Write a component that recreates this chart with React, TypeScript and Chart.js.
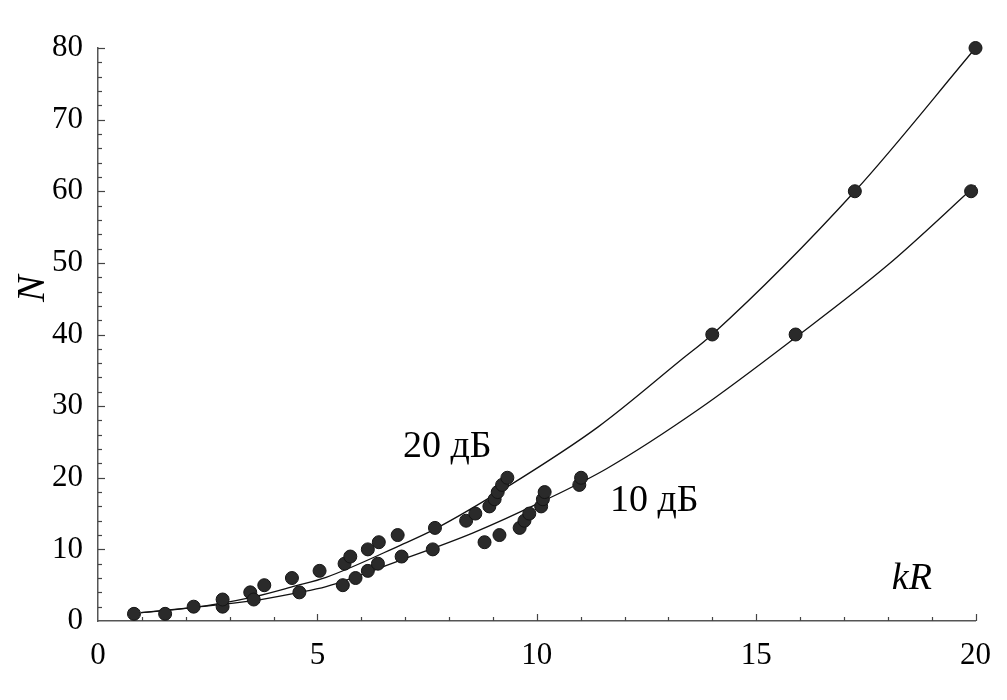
import { useEffect, useRef } from "react";
import { Chart, registerables } from "chart.js";

Chart.register(...registerables);

// Axis ticks
const xTickValues = [0, 5, 10, 15, 20];
const yTickValues = [0, 10, 20, 30, 40, 50, 60, 70, 80];

// Measured points, 20 dB
const kr20 = [0.82, 1.53, 2.18, 2.84, 2.84, 3.47, 3.55, 3.79, 4.42, 5.05, 5.62, 5.75, 6.15, 6.4, 6.83, 7.68, 8.39, 8.6, 8.92, 9.04, 9.11, 9.21, 9.33, 14.0, 17.25, 20.0];
const n20 = [1, 1, 2, 2, 3, 4, 3, 5, 6, 7, 8, 9, 10, 11, 12, 13, 14, 15, 16, 17, 18, 19, 20, 40, 60, 80];

// Measured points, 10 dB
const kr10 = [4.59, 5.58, 5.87, 6.15, 6.38, 6.92, 7.63, 8.81, 9.15, 9.61, 9.72, 9.83, 10.1, 10.14, 10.18, 10.97, 11.01, 15.9, 19.9];
const n10 = [4, 5, 6, 7, 8, 9, 10, 11, 12, 13, 14, 15, 16, 17, 18, 19, 20, 40, 60];

// Fitted curves
const curveKr20 = [0.98, 2.2, 3.5, 4.5, 5.2, 6.9, 7.7, 9.4, 11.4, 13.3, 14.0, 17.25, 20.0];
const curveN20 = [1.16, 1.9, 3.3, 4.9, 6.1, 10.6, 12.9, 19.0, 27.1, 36.5, 40.0, 60.0, 80.0];
const curveKr10 = [0.98, 2.2, 3.5, 4.5, 5.2, 6.9, 8.55, 10.2, 11.6, 13.7, 15.9, 18.0, 20.0];
const curveN10 = [1.16, 1.9, 2.8, 3.9, 4.8, 8.5, 12.3, 16.9, 21.3, 29.6, 39.6, 49.7, 60.8];

// Annotations
const labels = [
  { text: "20 дБ", kr: 7.96, n: 22.9 },
  { text: "10 дБ", kr: 12.68, n: 15.3 },
];
const xTitle = { text: "kR", kr: 18.55, n: 4.47 };
const yTitle = "N";

const SERIF = '"Liberation Serif", "Times New Roman", serif';

const pts = (xs: number[], ys: number[]) => xs.map((x, i) => ({ x, y: ys[i] }));

const decorPlugin = {
  id: "decor",
  afterDatasetsDraw(chart: any) {
    const { ctx, scales } = chart;
    const x = scales.x;
    const y = scales.y;
    ctx.save();
    ctx.strokeStyle = "#444";
    ctx.lineWidth = 1.2;
    const left = x.left;
    const bottom = y.bottom;
    for (let v = 2; v <= 80; v += 2) {
      const py = Math.round(y.getPixelForValue(v)) + 0.5;
      const len = v % 10 === 0 ? 7 : 4;
      ctx.beginPath();
      ctx.moveTo(left, py);
      ctx.lineTo(left + len, py);
      ctx.stroke();
    }
    for (let v = 1; v <= 20; v += 1) {
      const px = Math.round(x.getPixelForValue(v)) + 0.5;
      const len = v % 5 === 0 ? 7 : 4;
      ctx.beginPath();
      ctx.moveTo(px, bottom);
      ctx.lineTo(px, bottom - len);
      ctx.stroke();
    }
    ctx.fillStyle = "#000";
    ctx.textAlign = "center";
    ctx.textBaseline = "alphabetic";
    ctx.font = `38px ${SERIF}`;
    for (const l of labels) {
      ctx.fillText(l.text, x.getPixelForValue(l.kr), y.getPixelForValue(l.n));
    }
    ctx.font = `italic 38px ${SERIF}`;
    ctx.fillText(xTitle.text, x.getPixelForValue(xTitle.kr), y.getPixelForValue(xTitle.n));
    ctx.save();
    ctx.translate(33, y.getPixelForValue(46.4));
    ctx.rotate(-Math.PI / 2);
    ctx.textBaseline = "middle";
    ctx.font = `italic 40px ${SERIF}`;
    ctx.fillText(yTitle, 0, 0);
    ctx.restore();
    ctx.restore();
  },
};

export default function App() {
  const ref = useRef<HTMLCanvasElement>(null);
  useEffect(() => {
    if (!ref.current) return;
    const tickFont = { family: SERIF, size: 31 };
    const chart = new Chart(ref.current, {
      type: "scatter",
      data: {
        datasets: [
          {
            label: "20 дБ",
            data: pts(kr20, n20),
            pointRadius: 6.5,
            pointHoverRadius: 6.5,
            backgroundColor: "#2a2a2a",
            borderColor: "#151515",
            borderWidth: 1,
            clip: false,
            order: 1,
          },
          {
            label: "10 дБ",
            data: pts(kr10, n10),
            pointRadius: 6.5,
            pointHoverRadius: 6.5,
            backgroundColor: "#2a2a2a",
            borderColor: "#151515",
            borderWidth: 1,
            clip: false,
            order: 1,
          },
          {
            type: "line",
            label: "fit 20 дБ",
            data: pts(curveKr20, curveN20),
            borderColor: "#111",
            borderWidth: 1.3,
            pointRadius: 0,
            fill: false,
            cubicInterpolationMode: "monotone",
            clip: false,
            order: 2,
          } as any,
          {
            type: "line",
            label: "fit 10 дБ",
            data: pts(curveKr10, curveN10),
            borderColor: "#111",
            borderWidth: 1.3,
            pointRadius: 0,
            fill: false,
            cubicInterpolationMode: "monotone",
            clip: false,
            order: 2,
          } as any,
        ],
      },
      options: {
        responsive: false,
        animation: false,
        devicePixelRatio: 1,
        layout: { padding: { top: 48, right: 31, left: 0, bottom: 0 } },
        plugins: { legend: { display: false }, tooltip: { enabled: false } },
        scales: {
          x: {
            type: "linear",
            min: 0,
            max: 20,
            afterBuildTicks: (s: any) => {
              s.ticks = xTickValues.map((v) => ({ value: v }));
            },
            ticks: { font: tickFont, color: "#000", padding: 16, maxRotation: 0 },
            grid: { display: false, drawTicks: false },
            border: { display: true, color: "#555", width: 1.5 },
            afterFit: (s: any) => {
              s.height = 79;
            },
          },
          y: {
            type: "linear",
            min: 0,
            max: 80,
            afterBuildTicks: (s: any) => {
              s.ticks = yTickValues.map((v) => ({ value: v }));
            },
            ticks: { font: tickFont, color: "#000", padding: 15 },
            grid: { display: false, drawTicks: false },
            border: { display: true, color: "#555", width: 1.5 },
            afterFit: (s: any) => {
              s.width = 98;
            },
          },
        },
      } as any,
      plugins: [decorPlugin],
    });
    return () => chart.destroy();
  }, []);
  return (
    <div style={{ position: "fixed", left: 0, top: 0, width: 1007, height: 700, background: "#fff" }}>
      <canvas ref={ref} width={1007} height={700} style={{ display: "block", width: 1007, height: 700 }} />
    </div>
  );
}
